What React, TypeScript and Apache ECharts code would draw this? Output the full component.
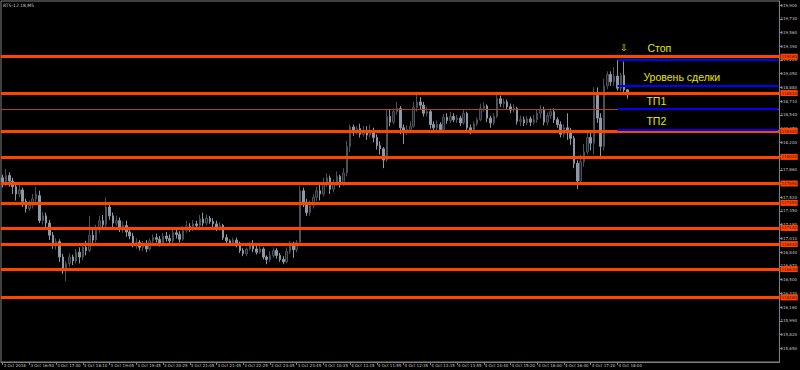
import { useEffect, useRef } from "react";
import * as echarts from "echarts";

const chartTitle = "RTS-12.18,M5";

const xLabels = [
  "3 Oct 2018", "3 Oct 16:50", "3 Oct 17:30", "3 Oct 18:10", "3 Oct 19:05", "3 Oct 19:45",
  "3 Oct 20:25", "3 Oct 21:05", "3 Oct 21:45", "3 Oct 22:25", "3 Oct 23:05", "3 Oct 23:45",
  "4 Oct 10:35", "4 Oct 11:15", "4 Oct 11:55", "4 Oct 12:35", "4 Oct 13:15", "4 Oct 13:55",
  "4 Oct 14:40", "4 Oct 15:20", "4 Oct 16:00", "4 Oct 16:40", "4 Oct 17:20", "4 Oct 18:00",
];

const yTicks = [
  115650, 115820, 115990, 116160, 116330, 116500, 116670, 116840, 117010, 117180, 117350, 117520, 117690,
  117860, 118030, 118200, 118370, 118540, 118710, 118880, 119050, 119220, 119390, 119560, 119730, 119900,
];

const opens = [
  117760, 117700, 117790, 117720, 117650, 117560, 117610, 117470, 117380, 117420,
  117500, 117540, 117230, 117290, 117200, 117050, 116930, 116970, 116780, 116630,
  116700, 116780, 116730, 116840, 116780, 116900, 116860, 117050, 116990, 117120,
  117230, 117180, 117400, 117290, 117200, 117230, 117130, 117170, 117090, 117040,
  116930, 116960, 116900, 116940, 116880, 116980, 117020, 117000, 116950, 117040,
  117010, 116980, 117080, 117060, 117000, 117110, 117160, 117120, 117190, 117170,
  117250, 117200, 117260, 117220, 117190, 117140, 117170, 117020, 116980, 116950,
  116990, 116940, 116860, 116820, 116880, 116930, 116880, 116840, 116880, 116780,
  116750, 116800, 116860, 116800, 116750, 116720, 116850, 116920, 116870, 116960,
  117600, 117460, 117330, 117420, 117520, 117600, 117560, 117690, 117760, 117620,
  117700, 117780, 117700, 117820, 118150, 118390, 118330, 118370, 118300, 118350,
  118290, 118340, 118260, 118160, 118120, 117980, 118520, 118450, 118580, 118620,
  118380, 118330, 118360, 118400, 118630, 118700, 118660, 118560, 118580, 118420,
  118380, 118420, 118360, 118510, 118470, 118520, 118480, 118500, 118440, 118560,
  118380, 118340, 118430, 118480, 118620, 118650, 118500, 118440, 118520, 118740,
  118680, 118700, 118640, 118600, 118620, 118460, 118480, 118440, 118490, 118450,
  118480, 118560, 118600, 118450, 118530, 118580, 118480, 118420, 118300, 118380,
  118320, 118250, 117940, 117720, 117960, 118080, 118260, 118190, 118780, 118500,
  118150, 118900, 119040, 118950, 119020, 118870, 119030, 118850,
];

const closes = [
  117700, 117790, 117720, 117650, 117560, 117610, 117470, 117380, 117420, 117500,
  117560, 117230, 117290, 117200, 117050, 116930, 116970, 116780, 116630, 116700,
  116780, 116730, 116840, 116780, 116900, 116860, 117050, 116990, 117120, 117230,
  117180, 117400, 117290, 117200, 117230, 117130, 117170, 117090, 117040, 116930,
  116960, 116900, 116940, 116880, 116980, 117020, 117000, 116950, 117040, 117010,
  116980, 117080, 117060, 117000, 117110, 117160, 117120, 117190, 117170, 117250,
  117200, 117260, 117220, 117190, 117140, 117170, 117020, 116980, 116950, 116990,
  116940, 116860, 116820, 116880, 116930, 116880, 116840, 116880, 116780, 116750,
  116800, 116860, 116800, 116750, 116720, 116850, 116920, 116870, 116960, 117600,
  117460, 117330, 117420, 117520, 117600, 117560, 117690, 117760, 117620, 117700,
  117780, 117700, 117820, 118150, 118390, 118330, 118370, 118300, 118350, 118290,
  118340, 118260, 118160, 118120, 117980, 118520, 118450, 118580, 118620, 118380,
  118330, 118360, 118400, 118630, 118700, 118660, 118560, 118580, 118420, 118380,
  118420, 118360, 118510, 118470, 118520, 118480, 118500, 118440, 118560, 118380,
  118340, 118430, 118480, 118620, 118650, 118500, 118440, 118520, 118740, 118680,
  118700, 118640, 118600, 118620, 118460, 118480, 118440, 118490, 118450, 118480,
  118560, 118600, 118450, 118530, 118580, 118480, 118420, 118300, 118380, 118320,
  118250, 117940, 117720, 117960, 118080, 118260, 118190, 118780, 118500, 118150,
  118900, 119040, 118950, 119020, 118870, 119030, 118850, 118790,
];

const lows = [
  117640, 117660, 117650, 117560, 117480, 117520, 117400, 117330, 117350, 117380,
  117460, 117200, 117180, 117150, 116990, 116880, 116870, 116720, 116570, 116480,
  116660, 116680, 116700, 116700, 116740, 116800, 116840, 116940, 116960, 117080,
  117130, 117150, 117240, 117150, 117170, 117090, 117080, 117030, 117000, 116900,
  116880, 116860, 116850, 116840, 116860, 116950, 116960, 116910, 116930, 116970,
  116940, 116950, 117010, 116960, 116980, 117080, 117090, 117100, 117130, 117150,
  117160, 117170, 117190, 117150, 117100, 117110, 116990, 116940, 116920, 116920,
  116900, 116830, 116790, 116790, 116860, 116840, 116810, 116820, 116750, 116690,
  116720, 116770, 116760, 116720, 116690, 116700, 116820, 116770, 116840, 116950,
  117400, 117290, 117290, 117380, 117470, 117480, 117530, 117650, 117560, 117580,
  117660, 117640, 117660, 117780, 118080, 118280, 118300, 118260, 118270, 118230,
  118260, 118200, 118110, 118050, 117880, 117960, 118400, 118420, 118540, 118300,
  118180, 118290, 118320, 118380, 118580, 118610, 118520, 118520, 118370, 118330,
  118340, 118320, 118340, 118430, 118440, 118450, 118440, 118400, 118420, 118330,
  118300, 118320, 118400, 118460, 118580, 118450, 118380, 118410, 118500, 118640,
  118630, 118600, 118560, 118570, 118420, 118400, 118400, 118410, 118400, 118420,
  118440, 118500, 118410, 118410, 118490, 118440, 118380, 118260, 118260, 118230,
  118170, 117880, 117620, 117690, 117900, 118050, 118100, 118050, 118440, 117990,
  118100, 118860, 118900, 118900, 118840, 118830, 118800, 118740,
];

const highs = [
  117800, 117870, 117830, 117760, 117690, 117680, 117640, 117500, 117480, 117560,
  117650, 117600, 117340, 117330, 117240, 117090, 117010, 117000, 116820, 116730,
  116830, 116810, 116880, 116900, 116950, 116980, 117290, 117120, 117180, 117290,
  117300, 117520, 117440, 117330, 117290, 117270, 117220, 117230, 117140, 117080,
  117010, 116990, 116980, 116990, 117010, 117060, 117070, 117040, 117080, 117090,
  117060, 117140, 117130, 117100, 117160, 117230, 117200, 117240, 117230, 117300,
  117330, 117310, 117290, 117260, 117230, 117210, 117190, 117060, 117000, 117020,
  117020, 116970, 116890, 116900, 116970, 116990, 116920, 116920, 116900, 116800,
  116850, 116900, 116890, 116830, 116790, 116900, 116980, 116970, 116990, 117660,
  117640, 117500, 117480, 117560, 117650, 117680, 117760, 117820, 117790, 117740,
  117840, 117800, 117880, 118220, 118420, 118420, 118400, 118430, 118400, 118400,
  118420, 118380, 118300, 118210, 118140, 118600, 118600, 118620, 118700, 118650,
  118420, 118410, 118460, 118700, 118800, 118760, 118700, 118640, 118600, 118460,
  118470, 118450, 118550, 118560, 118580, 118560, 118540, 118530, 118600, 118580,
  118420, 118460, 118510, 118680, 118700, 118670, 118530, 118560, 118800, 118780,
  118740, 118730, 118680, 118670, 118640, 118530, 118520, 118530, 118520, 118540,
  118610, 118660, 118640, 118570, 118620, 118620, 118510, 118460, 118420, 118560,
  118380, 118280, 117980, 118050, 118180, 118340, 118330, 118880, 118880, 118560,
  118990, 119080, 119080, 119130, 119220, 119060, 119200, 118860,
];

const levelPrices = [119260, 118810, 118340, 118020, 117690, 117450, 117140, 116940, 116630, 116280];
const thinLevel = 118610;
const tradeNames = ["Стоп", "Уровень сделки", "ТП1", "ТП2"];
const tradePrices = [119220, 118900, 118610, 118360];
const tradeStartBar = 184;
const stopArrowBar = 186;
const stopArrowPrice = 119370;

const slotCount = 233;
const labelStep = 8;
const yMin = 115480;
const yMax = 119950;

const ORANGE = "#ff4500";
const BLUE = "#0000ff";
const YELLOW = "#e6e600";
const AXIS = "#808080";
const TEXT = "#c8c8c8";

export default function App() {
  const ref = useRef<HTMLDivElement>(null);

  useEffect(() => {
    const chart = echarts.init(ref.current!, null, { renderer: "svg" });
    const slots = Array.from({ length: slotCount }, (_, i) => String(i));
    const candles = opens.map((o, i) => [o, closes[i], lows[i], highs[i]]);
    const showTick = (i: number) => i % labelStep === 0 && i / labelStep < xLabels.length;

    const levelLines = levelPrices.map((p) => ({
      yAxis: p,
      lineStyle: { color: ORANGE, width: 3, type: "solid" },
      label: {
        show: true,
        position: "end",
        formatter: String(p),
        backgroundColor: ORANGE,
        color: "#4a0c00",
        fontSize: 4,
        fontFamily: "DejaVu Sans",
        padding: [1, 1, 1, 1],
        distance: 1,
      },
    }));

    const thinLine = {
      yAxis: thinLevel,
      lineStyle: { color: "#b8401a", width: 1, type: "solid" },
      label: { show: false },
    };

    const tradeLines = tradePrices.map((p, i) => [
      {
        coord: [tradeStartBar, p],
        name: tradeNames[i],
        lineStyle: { color: BLUE, width: 2, type: "solid" },
        label: {
          show: true,
          position: "insideStartTop",
          formatter: tradeNames[i],
          color: YELLOW,
          fontSize: 10.5,
          fontFamily: "Liberation Sans",
          padding: [0, 0, 0, i === 1 ? 23 : i === 0 ? 24 : 26],
          distance: i === 0 ? 6 : 3,
        },
      },
      { coord: [slotCount - 1, p] },
    ]);

    const option = {
      animation: false,
      backgroundColor: "#000000",
      title: {
        text: chartTitle,
        left: 3,
        top: 3,
        padding: 0,
        textStyle: { fontSize: 4.5, color: TEXT, fontWeight: "normal", fontFamily: "DejaVu Sans" },
      },
      grid: {
        left: 1,
        right: 19,
        top: 1,
        bottom: 8,
        show: true,
        borderColor: AXIS,
        borderWidth: 1,
        backgroundColor: "#000000",
      },
      xAxis: {
        type: "category",
        data: slots,
        boundaryGap: true,
        axisLine: { lineStyle: { color: AXIS } },
        axisTick: {
          show: true,
          alignWithLabel: true,
          interval: (i: number) => showTick(i),
          length: 3,
          lineStyle: { color: AXIS },
        },
        axisLabel: {
          interval: (i: number) => showTick(i),
          formatter: (_v: string, i: number) => xLabels[i / labelStep] ?? "",
          align: "left",
          margin: 1,
          fontSize: 4,
          color: TEXT,
          fontFamily: "DejaVu Sans",
          padding: [0, 0, 0, 1],
        },
        splitLine: { show: false },
      },
      yAxis: {
        type: "value",
        position: "right",
        min: yMin,
        max: yMax,
        scale: true,
        axisLine: { show: true, lineStyle: { color: AXIS } },
        axisTick: { show: true, length: 3, customValues: yTicks, lineStyle: { color: AXIS } },
        axisLabel: {
          customValues: yTicks,
          fontSize: 4,
          margin: 1,
          color: TEXT,
          fontFamily: "DejaVu Sans",
        },
        splitLine: { show: false },
      },
      series: [
        {
          type: "candlestick",
          data: candles,
          barWidth: 2,
          itemStyle: {
            color: "#1c1f23",
            borderColor: "#4b5158",
            color0: "#8c98a5",
            borderColor0: "#8c98a5",
            borderWidth: 1,
          },
          markLine: {
            symbol: ["none", "none"],
            silent: true,
            animation: false,
            data: [...levelLines, thinLine, ...tradeLines],
          },
          markPoint: {
            silent: true,
            animation: false,
            data: [
              {
                coord: [stopArrowBar, stopArrowPrice],
                symbol: "circle",
                symbolSize: 1,
                itemStyle: { color: "rgba(0,0,0,0)" },
                label: {
                  show: true,
                  position: "inside",
                  formatter: "⇩",
                  color: YELLOW,
                  fontSize: 9,
                  fontFamily: "DejaVu Sans",
                },
              },
            ],
          },
        },
      ],
    };

    chart.setOption(option as any);
    return () => chart.dispose();
  }, []);

  return (
    <div
      ref={ref}
      style={{ position: "fixed", left: 0, top: 0, width: 800, height: 370, background: "#000" }}
    />
  );
}
